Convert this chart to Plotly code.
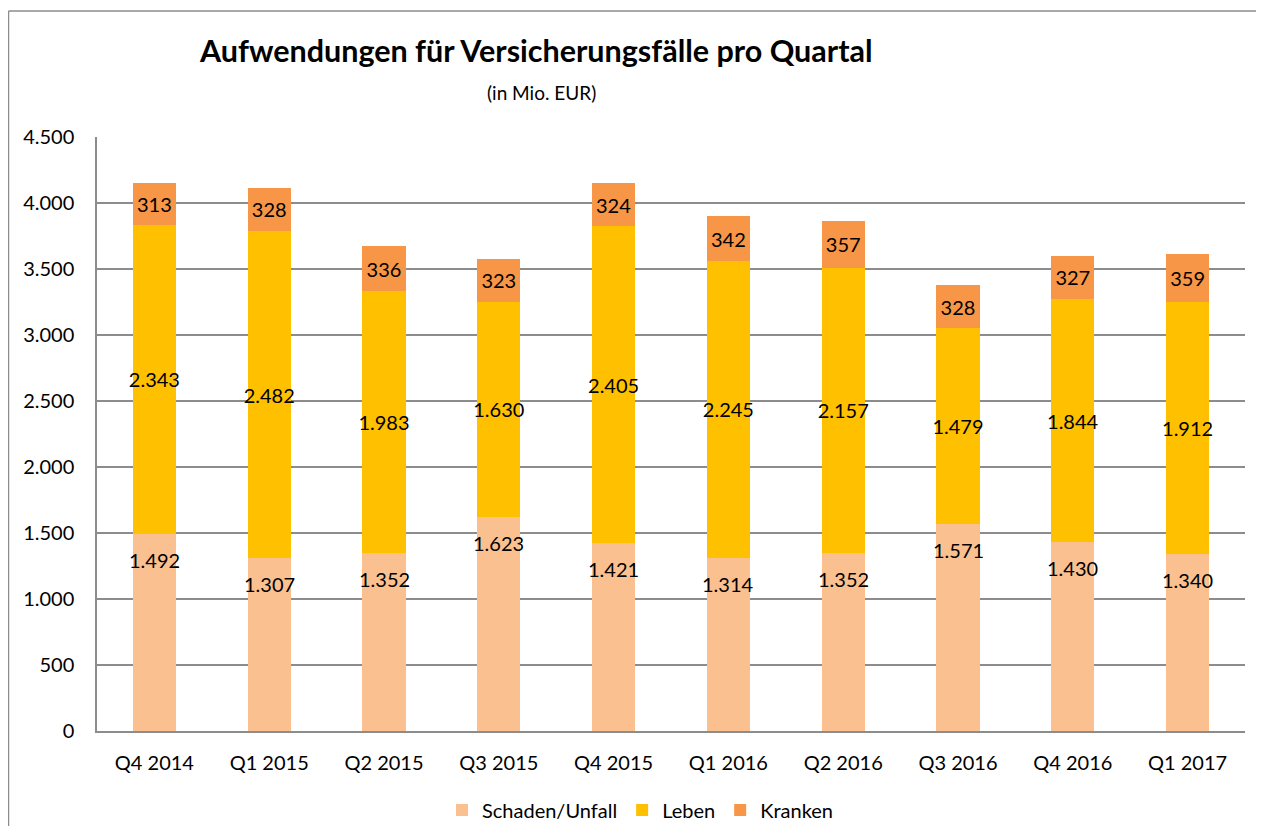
import plotly.graph_objects as go

quarters = ["Q4 2014", "Q1 2015", "Q2 2015", "Q3 2015", "Q4 2015",
            "Q1 2016", "Q2 2016", "Q3 2016", "Q4 2016", "Q1 2017"]
schaden = [1492, 1307, 1352, 1623, 1421, 1314, 1352, 1571, 1430, 1340]
leben = [2343, 2482, 1983, 1630, 2405, 2245, 2157, 1479, 1844, 1912]
kranken = [313, 328, 336, 323, 324, 342, 357, 328, 327, 359]
y_ticks = [0, 500, 1000, 1500, 2000, 2500, 3000, 3500, 4000, 4500]

FONT = "Lato"
C_S, C_L, C_K = "#FAC090", "#FFC000", "#F79646"
GRID = "#8C8C8C"

# page body has an 8px margin: figure origin sits at (8, 8) in the window
OFF = 8
PL, PT, PW, PH = 97 - OFF, 137 - OFF, 1148, 594
FW, FH = 1264 - 2 * OFF, 834 - 2 * OFF


def px(x):
    return (x - OFF - PL) / PW


def py(y):
    return (PT + PH - (y - OFF)) / PH


fig = go.Figure()
fig.add_bar(x=quarters, y=schaden, name="Schaden/Unfall", marker_color=C_S,
            marker_line_width=0)
fig.add_bar(x=quarters, y=leben, name="Leben", marker_color=C_L,
            marker_line_width=0, text=leben, texttemplate="%{text:,d}",
            textposition="inside", insidetextanchor="middle",
            constraintext="none", textangle=0,
            textfont=dict(family=FONT, size=20, color="black"))
fig.add_bar(x=quarters, y=kranken, name="Kranken", marker_color=C_K,
            marker_line_width=0, text=kranken, texttemplate="%{text:,d}",
            textposition="inside", insidetextanchor="middle",
            constraintext="none", textangle=0,
            textfont=dict(family=FONT, size=20, color="black"))

for q, v in zip(quarters, schaden):
    fig.add_annotation(x=q, y=v, text=f"{v:,}".replace(",", "."),
                       showarrow=False, yanchor="middle", yshift=-26,
                       font=dict(family=FONT, size=20, color="black"))

# title and subtitle
fig.add_annotation(xref="paper", yref="paper", x=px(536), y=py(50),
                   text="<b>Aufwendungen für Versicherungsfälle pro Quartal</b>",
                   showarrow=False, xanchor="center", yanchor="middle",
                   font=dict(family=FONT, size=30.5, color="black"))
fig.add_annotation(xref="paper", yref="paper", x=px(541), y=py(93),
                   text="(in Mio. EUR)", showarrow=False,
                   xanchor="center", yanchor="middle",
                   font=dict(family=FONT, size=19, color="black"))

# outer chart border (top and left edges; right/bottom run off the picture)
fig.add_shape(type="line", xref="paper", yref="paper",
              x0=px(8.5), x1=px(1300), y0=py(11), y1=py(11),
              line=dict(color=GRID, width=1.5), layer="below")
fig.add_shape(type="line", xref="paper", yref="paper",
              x0=px(8.5), x1=px(8.5), y0=py(11), y1=py(860),
              line=dict(color=GRID, width=1.5), layer="below")

fig.update_layout(
    barmode="stack",
    bargap=0.625,
    width=FW, height=FH,
    margin=dict(l=PL, r=FW - PL - PW, t=PT, b=FH - PT - PH, autoexpand=False),
    paper_bgcolor="white", plot_bgcolor="white",
    separators=",.",
    font=dict(family=FONT, size=20, color="black"),
    showlegend=True,
    legend=dict(orientation="h", x=px(640), xanchor="center",
                y=py(810), yanchor="middle",
                font=dict(family=FONT, size=20, color="black"),
                traceorder="normal", itemwidth=30),
)
fig.update_xaxes(showline=True, linecolor=GRID, linewidth=1.5,
                 showgrid=False, ticks="", ticklabelstandoff=13,
                 automargin=False,
                 tickfont=dict(family=FONT, size=20, color="black"),
                 range=[-0.5, 9.5])
fig.update_yaxes(range=[0, 4500], tickvals=y_ticks, tickformat=",d",
                 showline=True, linecolor=GRID, linewidth=1.5,
                 showgrid=True, gridcolor=GRID, gridwidth=1.5,
                 zeroline=False, ticks="", ticklabelstandoff=17,
                 automargin=False,
                 tickfont=dict(family=FONT, size=20, color="black"))

fig.write_html("out.html")
